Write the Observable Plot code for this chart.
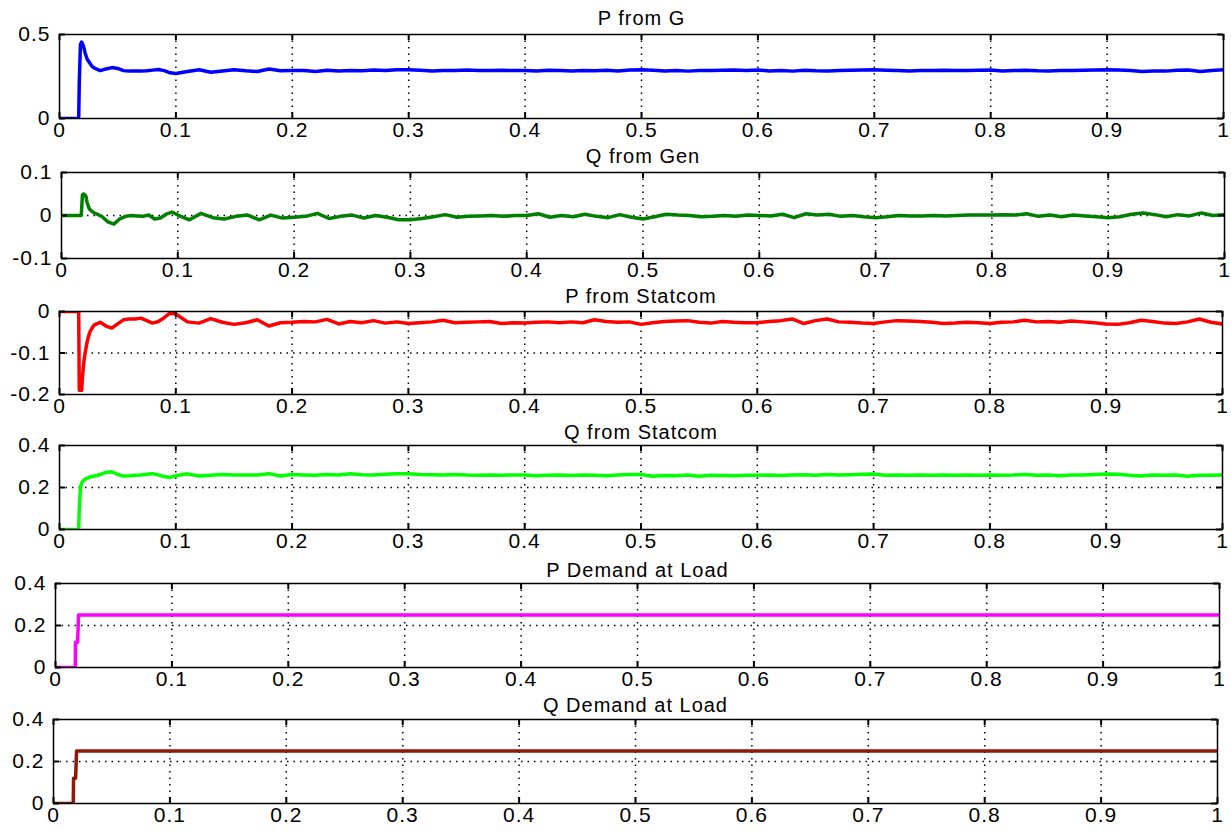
<!DOCTYPE html>
<html><head><meta charset="utf-8">
<script src="https://cdn.jsdelivr.net/npm/d3@7"></script>
<script src="https://cdn.jsdelivr.net/npm/@observablehq/plot@0.6"></script>
<style>
html,body{margin:0;padding:0;background:#fff;}
#chart{position:relative;width:1231px;height:831px;overflow:hidden;background:#fff;}
#chart svg{position:absolute;left:0;}
</style></head><body><div id="chart"></div>
<script>
// time grid (s)
const time = [0,0.0165,0.017,0.018,0.019,0.02,0.021,0.022,0.024,0.026,0.028,0.03,
0.035,0.04,0.045,0.05,0.055,0.06,0.065,0.07,0.075,0.08,0.085,0.09,0.095,0.1,
0.11,0.12,0.13,0.14,0.15,0.16,0.17,0.18,0.19,0.2,
0.21,0.22,0.23,0.24,0.25,0.26,0.27,0.28,0.29,0.3,
0.31,0.32,0.33,0.34,0.35,0.36,0.37,0.38,0.39,0.4,
0.41,0.42,0.43,0.44,0.45,0.46,0.47,0.48,0.49,0.5,
0.51,0.52,0.53,0.54,0.55,0.56,0.57,0.58,0.59,0.6,
0.61,0.62,0.63,0.64,0.65,0.66,0.67,0.68,0.69,0.7,
0.71,0.72,0.73,0.74,0.75,0.76,0.77,0.78,0.79,0.8,
0.81,0.82,0.83,0.84,0.85,0.86,0.87,0.88,0.89,0.9,
0.91,0.92,0.93,0.94,0.95,0.96,0.97,0.98,0.99,1.0];

const pFromG = [0,0,0.22,0.44,0.455,0.44,0.42,0.39,0.35,0.33,0.31,0.30,
0.285,0.295,0.303,0.298,0.285,0.282,0.283,0.282,0.284,0.288,0.292,0.285,0.272,0.268,
0.28,0.29,0.275,0.283,0.29,0.284,0.28,0.295,0.284,0.286,
0.285,0.28,0.287,0.283,0.286,0.284,0.288,0.285,0.29,0.29,
0.287,0.283,0.286,0.285,0.288,0.286,0.285,0.287,0.285,0.286,
0.283,0.287,0.285,0.283,0.286,0.284,0.287,0.283,0.288,0.29,
0.287,0.283,0.285,0.282,0.286,0.285,0.287,0.288,0.285,0.289,
0.283,0.286,0.282,0.287,0.284,0.283,0.285,0.287,0.288,0.29,
0.287,0.285,0.283,0.285,0.286,0.287,0.285,0.286,0.287,0.288,
0.283,0.285,0.287,0.284,0.283,0.285,0.286,0.287,0.289,0.29,
0.289,0.285,0.28,0.283,0.282,0.287,0.289,0.28,0.285,0.29];

const qFromGen = [0,0,0,0.048,0.05,0.048,0.045,0.03,0.015,0.01,0.006,0.004,
-0.003,-0.015,-0.02,-0.008,-0.002,0,-0.001,-0.002,0.001,-0.008,-0.006,0.003,0.008,0.001,
-0.01,0.005,-0.005,-0.008,-0.002,0.001,-0.01,0.001,-0.006,-0.004,
-0.002,0.005,-0.007,-0.002,0.001,-0.006,0,-0.004,-0.01,-0.01,
-0.007,-0.003,0.002,-0.004,-0.002,-0.001,0,-0.002,0,0,
0.004,-0.004,0,-0.003,0.003,-0.002,-0.005,0.002,-0.004,-0.008,
-0.003,0.003,0.001,0,-0.003,-0.002,0,-0.002,0.001,0,
-0.001,0.003,-0.005,0.004,0.001,0.003,-0.002,0,-0.003,-0.005,
-0.003,0,-0.001,-0.001,0,-0.001,0,0.001,0.001,0.001,
0.002,0.001,0.004,-0.002,0.001,-0.003,0.001,-0.001,-0.003,-0.005,
-0.003,0.003,0.006,0.002,-0.003,0.002,-0.001,0.006,0,0.002];

const pFromStatcom = [0,0,-0.19,-0.19,-0.19,-0.15,-0.12,-0.1,-0.07,-0.05,-0.04,-0.032,
-0.026,-0.035,-0.04,-0.03,-0.02,-0.018,-0.018,-0.016,-0.022,-0.028,-0.024,-0.015,-0.004,-0.006,
-0.025,-0.028,-0.017,-0.026,-0.031,-0.027,-0.02,-0.035,-0.027,-0.026,
-0.024,-0.025,-0.019,-0.03,-0.024,-0.027,-0.022,-0.028,-0.025,-0.029,
-0.027,-0.025,-0.021,-0.027,-0.026,-0.025,-0.024,-0.029,-0.027,-0.028,
-0.026,-0.025,-0.027,-0.025,-0.027,-0.02,-0.024,-0.026,-0.025,-0.031,
-0.027,-0.024,-0.023,-0.022,-0.026,-0.028,-0.024,-0.026,-0.027,-0.027,
-0.024,-0.022,-0.018,-0.029,-0.022,-0.018,-0.025,-0.026,-0.028,-0.029,
-0.025,-0.022,-0.023,-0.024,-0.026,-0.029,-0.028,-0.026,-0.027,-0.029,
-0.026,-0.025,-0.021,-0.025,-0.024,-0.026,-0.023,-0.025,-0.027,-0.03,
-0.031,-0.027,-0.021,-0.024,-0.028,-0.029,-0.025,-0.018,-0.026,-0.03];

const qFromStatcom = [0,0,0.1,0.2,0.22,0.23,0.235,0.24,0.245,0.25,0.252,0.255,
0.262,0.272,0.275,0.262,0.255,0.256,0.258,0.26,0.263,0.266,0.26,0.252,0.248,0.256,
0.265,0.255,0.258,0.262,0.26,0.259,0.26,0.266,0.255,0.262,
0.26,0.258,0.262,0.259,0.265,0.261,0.26,0.263,0.266,0.265,
0.262,0.261,0.26,0.262,0.259,0.258,0.26,0.258,0.26,0.26,
0.256,0.258,0.259,0.257,0.26,0.258,0.256,0.26,0.262,0.262,
0.254,0.257,0.256,0.259,0.254,0.258,0.257,0.256,0.258,0.258,
0.26,0.257,0.259,0.261,0.258,0.262,0.26,0.261,0.263,0.264,
0.258,0.259,0.258,0.259,0.258,0.259,0.258,0.259,0.258,0.259,
0.258,0.259,0.262,0.258,0.259,0.256,0.26,0.259,0.262,0.264,
0.263,0.258,0.255,0.26,0.258,0.259,0.254,0.258,0.258,0.26];

const demandTime = [0,0.017,0.0172,0.019,0.0198,1];
const pDemand = [0,0,0.12,0.12,0.25,0.25];
const qDemand = [0,0,0.12,0.12,0.25,0.25];

const xTicks = [0,0.1,0.2,0.3,0.4,0.5,0.6,0.7,0.8,0.9,1];
const xTickLabels = ["0","0.1","0.2","0.3","0.4","0.5","0.6","0.7","0.8","0.9","1"];

const panels = [
  {title:"P from G", t:time, values:pFromG, color:"#0000ff", yDomain:[0,0.5], yTicks:[0,0.5], yTickLabels:["0","0.5"]},
  {title:"Q from Gen", t:time, values:qFromGen, color:"#007f00", yDomain:[-0.1,0.1], yTicks:[-0.1,0,0.1], yTickLabels:["-0.1","0","0.1"]},
  {title:"P from Statcom", t:time, values:pFromStatcom, color:"#ff0000", yDomain:[-0.2,0], yTicks:[-0.2,-0.1,0], yTickLabels:["-0.2","-0.1","0"]},
  {title:"Q from Statcom", t:time, values:qFromStatcom, color:"#00ff00", yDomain:[0,0.4], yTicks:[0,0.2,0.4], yTickLabels:["0","0.2","0.4"]},
  {title:"P Demand at Load", t:demandTime, values:pDemand, color:"#ff00ff", yDomain:[0,0.4], yTicks:[0,0.2,0.4], yTickLabels:["0","0.2","0.4"]},
  {title:"Q Demand at Load", t:demandTime, values:qDemand, color:"#8c1a08", yDomain:[0,0.4], yTicks:[0,0.2,0.4], yTickLabels:["0","0.2","0.4"]}
];

// layout of each axes box in the page
const layout = [
  {top:34, bottom:118, left:59, right:1223, titleDy:-16},
  {top:172, bottom:258, left:61, right:1224, titleDy:-16},
  {top:311, bottom:394, left:59, right:1222, titleDy:-15},
  {top:445, bottom:529, left:59, right:1222, titleDy:-13},
  {top:583, bottom:667, left:55, right:1219, titleDy:-13},
  {top:719, bottom:803, left:53, right:1217, titleDy:-14}
];

const MT = 40, MB = 32, W = 1231;
const chart = document.getElementById("chart");
const grid = {stroke:"#000", strokeWidth:1.5, strokeDasharray:"1.5,5"};

panels.forEach((p, i) => {
  const L = layout[i];
  const ph = L.bottom - L.top, pw = L.right - L.left;
  const data = p.t.map((t, j) => ({t, v: p.values[j]}));
  const interiorX = xTicks.slice(1, -1);
  const interiorY = p.yTicks.filter(d => d !== p.yDomain[0] && d !== p.yDomain[1]);
  const svg = Plot.plot({
    width: W, height: MT + ph + MB,
    marginTop: MT, marginBottom: MB, marginLeft: L.left, marginRight: W - L.right,
    style: {fontFamily: "'Liberation Sans', Arial, sans-serif", fontSize: "21px", background: "transparent", overflow: "visible", color: "#000", letterSpacing: "1px"},
    x: {domain: [0, 1]},
    y: {domain: p.yDomain},
    marks: [
      Plot.ruleX(interiorX, grid),
      Plot.ruleY(interiorY, grid),
      Plot.line(data, {x: "t", y: "v", stroke: p.color, strokeWidth: 3.5, clip: true}),
      Plot.tickX(xTicks, {x: d => d, insetBottom: ph - 6, strokeWidth: 2}),
      Plot.tickX(xTicks, {x: d => d, insetTop: ph - 6, strokeWidth: 2}),
      Plot.tickY(p.yTicks, {y: d => d, insetRight: pw - 6, strokeWidth: 2}),
      Plot.tickY(p.yTicks, {y: d => d, insetLeft: pw - 6, strokeWidth: 2}),
      Plot.frame({stroke: "#000", strokeWidth: 1.5}),
      Plot.axisX({ticks: xTicks, tickSize: 0, tickPadding: 4, tickFormat: d => xTickLabels[xTicks.indexOf(d)], label: null}),
      Plot.axisY({ticks: p.yTicks, tickSize: 0, tickPadding: 9, tickFormat: d => p.yTickLabels[p.yTicks.indexOf(d)], label: null}),
      Plot.text([p.title], {frameAnchor: "top", lineAnchor: "middle", dy: L.titleDy, fontSize: 20})
    ]
  });
  svg.style.top = (L.top - MT) + "px";
  chart.append(svg);
});
</script></body></html>
